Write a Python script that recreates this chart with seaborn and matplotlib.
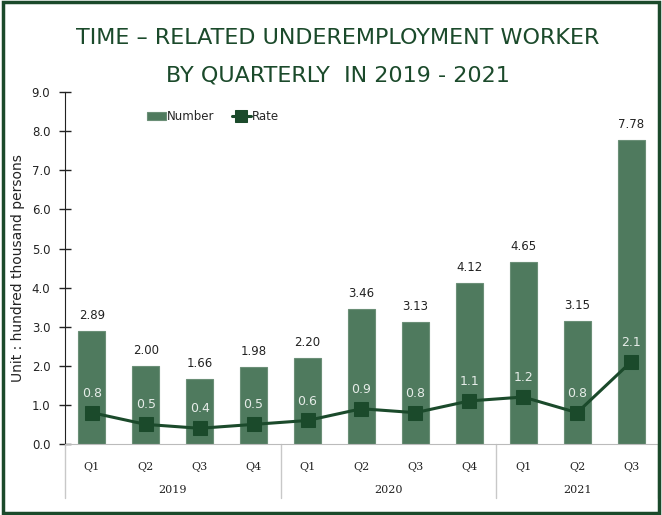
import numpy as np
import pandas as pd
import matplotlib
matplotlib.use("Agg")
import matplotlib.pyplot as plt
import matplotlib.transforms as mtransforms
from matplotlib.patches import Rectangle
import seaborn as sns

# Données
quarters = ["Q1", "Q2", "Q3", "Q4", "Q1", "Q2", "Q3", "Q4", "Q1", "Q2", "Q3"]
years = ["2019"] * 4 + ["2020"] * 4 + ["2021"] * 3
number = [2.89, 2.00, 1.66, 1.98, 2.20, 3.46, 3.13, 4.12, 4.65, 3.15, 7.78]
rate = [0.8, 0.5, 0.4, 0.5, 0.6, 0.9, 0.8, 1.1, 1.2, 0.8, 2.1]
year_labels = ["2019", "2020", "2021"]

BAR = "#4f7a5e"
DARK = "#1b4a2b"

df = pd.DataFrame({"key": [y + q for y, q in zip(years, quarters)],
                   "number": number, "rate": rate})
df["pos"] = np.arange(len(df))

sns.set_style("white")
fig = plt.figure(figsize=(6.62, 5.15), dpi=100)
ax = fig.add_axes([0.098, 0.138, 0.896, 0.683])

sns.barplot(data=df, x="key", y="number", color=BAR, width=0.5,
            saturation=1, edgecolor="#6b8f77", linewidth=0.8, ax=ax,
            label="Number")
sns.lineplot(data=df, x="pos", y="rate", color=DARK, linewidth=2.2,
             marker="s", markersize=10, markeredgecolor=DARK, ax=ax,
             label="Rate")

# étiquettes
for i, (n, r) in enumerate(zip(number, rate)):
    ax.annotate(f"{n:.2f}", (i, n), xytext=(0, 11), textcoords="offset points",
                ha="center", va="center", fontsize=8.5, color="#222222")
    ax.annotate(f"{r:.1f}", (i, r), xytext=(0, 14), textcoords="offset points",
                ha="center", va="center", fontsize=9, color="#e6ece8")

ax.set_ylim(0, 9)
ax.set_xlim(-0.5, len(df) - 0.5)
ax.set_yticks(np.arange(0, 9.5, 1))
ax.set_yticklabels([f"{v:.1f}" for v in np.arange(0, 9.5, 1)], fontsize=8.5,
                   color="#222222")
ax.tick_params(axis="y", direction="inout", length=9, width=1, color="#222222",
               pad=6, left=True)
ax.set_xticks(df["pos"])
ax.set_xticklabels(quarters, fontsize=8, color="#222222", family="serif")
ax.tick_params(axis="x", length=0, pad=13)
ax.set_xlabel("")
ax.set_ylabel("Unit : hundred thousand persons", fontsize=10, color="#222222")
ax.yaxis.set_label_coords(-0.068, 0.5)

for s in ["top", "right"]:
    ax.spines[s].set_visible(False)
ax.spines["left"].set_color("#222222")
ax.spines["bottom"].set_color("#bbbbbb")

# séparateurs et années
trans = mtransforms.blended_transform_factory(ax.transData, ax.transAxes)
for xb in [-0.5, 3.5, 7.5, 10.5]:
    ax.plot([xb, xb], [0, -0.155], transform=trans, color="#c8c8c8",
            linewidth=1, clip_on=False)
for yl in year_labels:
    idx = [i for i, y in enumerate(years) if y == yl]
    xm = (min(idx) + max(idx)) / 2
    ax.text(xm, -0.13, yl, transform=trans, ha="center", va="center",
            fontsize=8, color="#222222", family="serif")

handles, labels = ax.get_legend_handles_labels()
order = [labels.index("Number"), labels.index("Rate")]
ax.legend([handles[i] for i in order], [labels[i] for i in order],
          loc="upper left", bbox_to_anchor=(0.12, 0.98), ncol=2,
          frameon=False, fontsize=8.5, handlelength=1.6,
          handletextpad=0.1, columnspacing=1.5, markerscale=0.8)

fig.text(0.51, 0.926, "TIME \u2013 RELATED UNDEREMPLOYMENT WORKER",
         ha="center", va="center", fontsize=16, color=DARK)
fig.text(0.51, 0.854, "BY QUARTERLY  IN 2019 - 2021",
         ha="center", va="center", fontsize=16, color=DARK)

fig.patches.append(Rectangle((0.004, 0.004), 0.992, 0.992,
                             transform=fig.transFigure, fill=False,
                             edgecolor=DARK, linewidth=2.5))

fig.savefig("out.png", dpi=100)
